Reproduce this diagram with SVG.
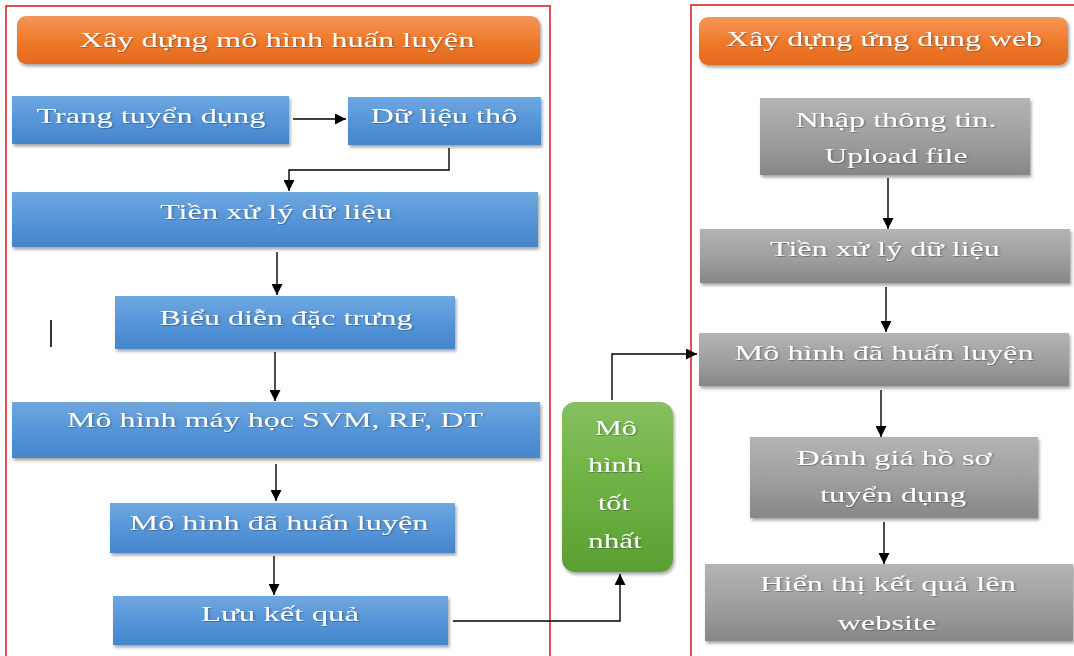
<svg xmlns="http://www.w3.org/2000/svg" width="1074" height="656" viewBox="0 0 1074 656">
  <defs>
    <linearGradient id="gBlue" x1="0" y1="0" x2="0" y2="1">
      <stop offset="0" stop-color="#6fa8e0"/>
      <stop offset="0.5" stop-color="#5595d8"/>
      <stop offset="1" stop-color="#4585cc"/>
    </linearGradient>
    <linearGradient id="gGray" x1="0" y1="0" x2="0" y2="1">
      <stop offset="0" stop-color="#b4b4b4"/>
      <stop offset="0.5" stop-color="#a0a0a0"/>
      <stop offset="1" stop-color="#878787"/>
    </linearGradient>
    <linearGradient id="gOrange" x1="0" y1="0" x2="0" y2="1">
      <stop offset="0" stop-color="#f4955a"/>
      <stop offset="0.5" stop-color="#f07b2c"/>
      <stop offset="1" stop-color="#e2691c"/>
    </linearGradient>
    <linearGradient id="gGreen" x1="0" y1="0" x2="0" y2="1">
      <stop offset="0" stop-color="#86c060"/>
      <stop offset="0.5" stop-color="#6db243"/>
      <stop offset="1" stop-color="#5a9f32"/>
    </linearGradient>
    <filter id="shadow" x="-10%" y="-20%" width="120%" height="150%">
      <feDropShadow dx="1.5" dy="2.5" stdDeviation="1.8" flood-color="#000" flood-opacity="0.35"/>
    </filter>
    <filter id="tshadow" x="-5%" y="-20%" width="110%" height="150%">
      <feDropShadow dx="0.8" dy="1" stdDeviation="0.6" flood-color="#333" flood-opacity="0.45"/>
    </filter>
    <marker id="arrow" viewBox="0 0 10 10" refX="10" refY="5" markerWidth="11" markerHeight="11" markerUnits="userSpaceOnUse" orient="auto">
      <path d="M0,0 L10,5 L0,10 Z" fill="#000"/>
    </marker>
  </defs>
  <style>
    /* labels are drawn in a horizontally widened serif: scale(1.45,1) on each text */
    .lbl { font-family: "Liberation Serif", "Times New Roman", serif; font-size: 22px; fill: #ffffff; text-anchor: middle; filter: url(#tshadow); }
    .blue { fill: url(#gBlue); filter: url(#shadow); }
    .gray { fill: url(#gGray); filter: url(#shadow); }
    .orange { fill: url(#gOrange); filter: url(#shadow); }
    .green { fill: url(#gGreen); filter: url(#shadow); }
    .frame { fill: none; stroke: #d8262c; stroke-width: 1.6; }
    .conn { fill: none; stroke: #000; stroke-width: 1.4; }
  </style>

  <rect width="1074" height="656" fill="#ffffff"/>

  <!-- section frames -->
  <g id="frames">
    <rect class="frame" x="6" y="6" width="544" height="660"/>
    <rect class="frame" x="691" y="5" width="390" height="660"/>
  </g>

  <!-- training pipeline -->
  <g id="hdr-train">
    <rect class="orange" x="17" y="16" width="523" height="48" rx="9"/>
    <text class="lbl" transform="scale(1.45,1)" x="191" y="47" textLength="272.4" lengthAdjust="spacingAndGlyphs">Xây dựng mô hình huấn luyện</text>
  </g>
  <g id="n-trang">
    <rect class="blue" x="12" y="96" width="277" height="48"/>
    <text class="lbl" transform="scale(1.45,1)" x="104.1" y="123" textLength="157.9" lengthAdjust="spacingAndGlyphs">Trang tuyển dụng</text>
  </g>
  <g id="n-raw">
    <rect class="blue" x="348" y="97" width="193" height="48"/>
    <text class="lbl" transform="scale(1.45,1)" x="306.2" y="123" textLength="101.4" lengthAdjust="spacingAndGlyphs">Dữ liệu thô</text>
  </g>
  <g id="n-prep">
    <rect class="blue" x="12" y="192" width="526" height="55"/>
    <text class="lbl" transform="scale(1.45,1)" x="190.3" y="219" textLength="160" lengthAdjust="spacingAndGlyphs">Tiền xử lý dữ liệu</text>
  </g>
  <g id="n-feat">
    <rect class="blue" x="115" y="296" width="340" height="53"/>
    <text class="lbl" transform="scale(1.45,1)" x="197.2" y="325" textLength="174.5" lengthAdjust="spacingAndGlyphs">Biểu diễn đặc trưng</text>
  </g>
  <g id="n-ml">
    <rect class="blue" x="12" y="402" width="528" height="56"/>
    <text class="lbl" transform="scale(1.45,1)" x="189.7" y="427" textLength="286.9" lengthAdjust="spacingAndGlyphs">Mô hình máy học SVM, RF, DT</text>
  </g>
  <g id="n-trained">
    <rect class="blue" x="110" y="503" width="345" height="50"/>
    <text class="lbl" transform="scale(1.45,1)" x="192.4" y="530" textLength="206.2" lengthAdjust="spacingAndGlyphs">Mô hình đã huấn luyện</text>
  </g>
  <g id="n-save">
    <rect class="blue" x="113" y="596" width="335" height="49"/>
    <text class="lbl" transform="scale(1.45,1)" x="193.1" y="621" textLength="109" lengthAdjust="spacingAndGlyphs">Lưu kết quả</text>
  </g>
  <g id="n-best">
    <rect class="green" x="562" y="402" width="111" height="170" rx="13"/>
    <text class="lbl" transform="scale(1.45,1)" x="424.8" y="435" textLength="29" lengthAdjust="spacingAndGlyphs">Mô</text>
    <text class="lbl" transform="scale(1.45,1)" x="424.1" y="472" textLength="37.2" lengthAdjust="spacingAndGlyphs">hình</text>
    <text class="lbl" transform="scale(1.45,1)" x="423.4" y="510" textLength="22.1" lengthAdjust="spacingAndGlyphs">tốt</text>
    <text class="lbl" transform="scale(1.45,1)" x="424.1" y="548" textLength="37.2" lengthAdjust="spacingAndGlyphs">nhất</text>
  </g>

  <!-- web application pipeline -->
  <g id="hdr-web">
    <rect class="orange" x="699" y="17" width="369" height="48" rx="9"/>
    <text class="lbl" transform="scale(1.45,1)" x="609.7" y="46" textLength="217.9" lengthAdjust="spacingAndGlyphs">Xây dựng ứng dụng web</text>
  </g>
  <g id="w-input">
    <rect class="gray" x="760" y="98" width="270" height="77"/>
    <text class="lbl" transform="scale(1.45,1)" x="617.9" y="127" textLength="138.6" lengthAdjust="spacingAndGlyphs">Nhập thông tin.</text>
    <text class="lbl" transform="scale(1.45,1)" x="617.9" y="163" textLength="98.6" lengthAdjust="spacingAndGlyphs">Upload file</text>
  </g>
  <g id="w-prep">
    <rect class="gray" x="700" y="229" width="370" height="54"/>
    <text class="lbl" transform="scale(1.45,1)" x="610.3" y="256" textLength="158.6" lengthAdjust="spacingAndGlyphs">Tiền xử lý dữ liệu</text>
  </g>
  <g id="w-model">
    <rect class="gray" x="699" y="333" width="370" height="53"/>
    <text class="lbl" transform="scale(1.45,1)" x="609.7" y="360" textLength="206.2" lengthAdjust="spacingAndGlyphs">Mô hình đã huấn luyện</text>
  </g>
  <g id="w-eval">
    <rect class="gray" x="750" y="437" width="288" height="81"/>
    <text class="lbl" transform="scale(1.45,1)" x="616.6" y="465" textLength="134.5" lengthAdjust="spacingAndGlyphs">Đánh giá hồ sơ</text>
    <text class="lbl" transform="scale(1.45,1)" x="615.9" y="502" textLength="100.7" lengthAdjust="spacingAndGlyphs">tuyển dụng</text>
  </g>
  <g id="w-show">
    <rect class="gray" x="705" y="564" width="368" height="77"/>
    <text class="lbl" transform="scale(1.45,1)" x="612.4" y="591" textLength="176.6" lengthAdjust="spacingAndGlyphs">Hiển thị kết quả lên</text>
    <text class="lbl" transform="scale(1.45,1)" x="611.7" y="630" textLength="68.3" lengthAdjust="spacingAndGlyphs">website</text>
  </g>

  <!-- stray vertical stroke -->
  <line x1="51" y1="320" x2="51" y2="347" stroke="#000" stroke-width="1.6"/>

  <!-- connectors -->
  <g id="connectors">
    <path class="conn" d="M293,119 H346" marker-end="url(#arrow)"/>
    <path class="conn" d="M449,148 V170 H289 V191" marker-end="url(#arrow)"/>
    <path class="conn" d="M277,252 V295" marker-end="url(#arrow)"/>
    <path class="conn" d="M275,352 V401" marker-end="url(#arrow)"/>
    <path class="conn" d="M276,464 V501" marker-end="url(#arrow)"/>
    <path class="conn" d="M274,556 V595" marker-end="url(#arrow)"/>
    <path class="conn" d="M453,621 H620 V574" marker-end="url(#arrow)"/>
    <path class="conn" d="M612,400 V354 H697" marker-end="url(#arrow)"/>
    <path class="conn" d="M888,178 V229" marker-end="url(#arrow)"/>
    <path class="conn" d="M886,287 V332" marker-end="url(#arrow)"/>
    <path class="conn" d="M881,390 V437" marker-end="url(#arrow)"/>
    <path class="conn" d="M884,522 V564" marker-end="url(#arrow)"/>
  </g>
</svg>
